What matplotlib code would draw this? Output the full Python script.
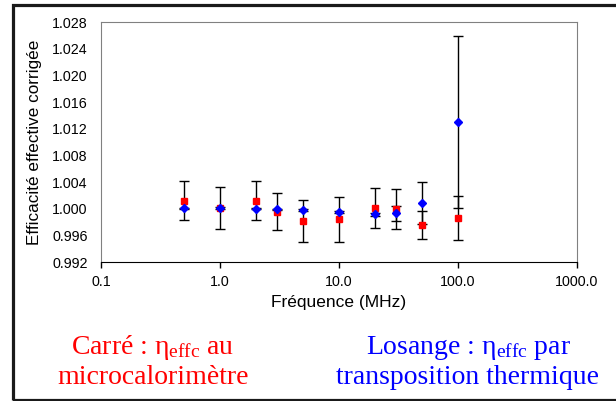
import matplotlib
matplotlib.use('Agg')
import matplotlib.pyplot as plt
from matplotlib.patches import Rectangle

plt.rcParams['font.family'] = ['Liberation Sans', 'DejaVu Sans']
plt.rcParams['mathtext.fontset'] = 'custom'
plt.rcParams['mathtext.rm'] = 'Liberation Serif'
plt.rcParams['mathtext.it'] = 'Liberation Serif'

# data
freq = [0.5, 1, 2, 3, 5, 10, 20, 30, 50, 100]
micro = [1.0012, 1.0001, 1.0012, 0.99955, 0.99815, 0.9984, 1.0001, 1.0000, 0.99755, 0.99855]
micro_err = [0.0029, 0.0031, 0.0029, 0.0028, 0.0031, 0.0034, 0.0030, 0.0030, 0.0021, 0.0033]
transpo = [1.00005, 1.0001, 1.0000, 0.9999, 0.9998, 0.9995, 0.99915, 0.9993, 1.00085, 1.0130]
transpo_err = [0.0001, 0.0001, 0.0001, 0.0001, 0.0001, 0.0001, 0.0002, 0.00115, 0.0031, 0.0129]
yticks = [0.992, 0.996, 1.000, 1.004, 1.008, 1.012, 1.016, 1.020, 1.024, 1.028]
xticks = [0.1, 1, 10, 100, 1000]

fig = plt.figure(figsize=(6.16, 4.01), dpi=100)
ax = fig.add_axes([101/616, 1-262/401, 476/616, 240/401])

ax.errorbar(freq, micro, yerr=micro_err, fmt='none', ecolor='black', elinewidth=1, capsize=3.5, capthick=1, zorder=2)
ax.errorbar(freq, transpo, yerr=transpo_err, fmt='none', ecolor='black', elinewidth=1, capsize=3.5, capthick=1, zorder=2)
ax.plot(freq, micro, 's', color='#ff0000', markersize=5, linestyle='none', zorder=3)
ax.plot(freq, transpo, 'D', color='#0000ff', markersize=4, linestyle='none', zorder=4)

ax.set_xscale('log')
ax.set_xlim(0.1, 1000)
ax.set_ylim(0.992, 1.028)
ax.set_xticks(xticks)
ax.set_xticklabels(['%.1f' % t for t in xticks], fontsize=10.3)
ax.xaxis.set_minor_locator(matplotlib.ticker.NullLocator())
ax.set_yticks(yticks)
ax.set_yticklabels(['%.3f' % t for t in yticks], fontsize=10.3)
ax.tick_params(axis='x', direction='out', length=4, width=1, pad=5)
ax.tick_params(axis='y', length=0, pad=9.5)
for s in ['top', 'right', 'left']:
    ax.spines[s].set_color('#808080')
ax.spines['bottom'].set_color('black')

ax.set_xlabel('Fréquence (MHz)', fontsize=12.5, labelpad=5)
ax.set_ylabel('Efficacité effective corrigée', fontsize=12.3, labelpad=7)

# captions
fig.text(153/616, 1-348/401, r'Carré : $\eta_{\mathrm{effc}}$ au', color='#ff0000',
         family='Liberation Serif', fontsize=20, ha='center', va='center')
fig.text(153/616, 1-377/401, 'microcalorimètre', color='#ff0000',
         family='Liberation Serif', fontsize=20, ha='center', va='center')
fig.text(468/616, 1-348/401, r'Losange : $\eta_{\mathrm{effc}}$ par', color='#0000ff',
         family='Liberation Serif', fontsize=20, ha='center', va='center')
fig.text(468/616, 1-377/401, 'transposition thermique', color='#0000ff',
         family='Liberation Serif', fontsize=20, ha='center', va='center')

# outer frame, open on the right side
fig.patches.append(Rectangle((12.5/616, 1-399.5/401), 620/616, 395/401, transform=fig.transFigure,
                             fill=False, edgecolor='#1a1a1a', linewidth=2.3))

fig.savefig('out.png', dpi=100)
